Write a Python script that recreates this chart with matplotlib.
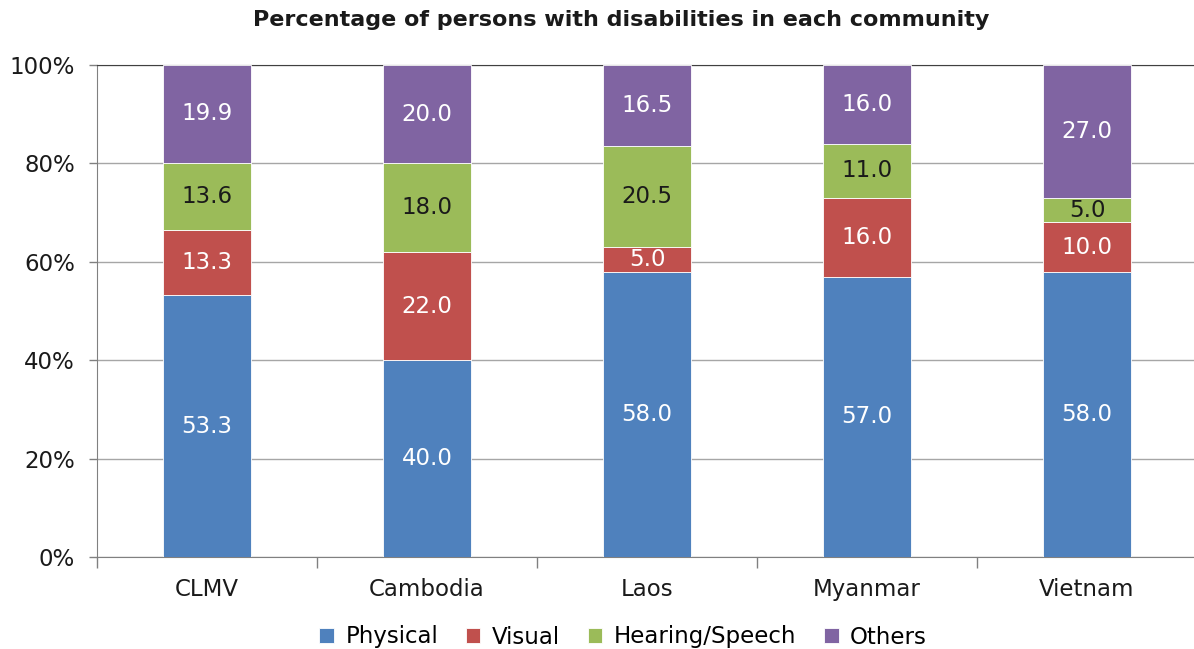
import matplotlib
matplotlib.use("Agg")
import matplotlib.pyplot as plt
import numpy as np
from matplotlib.ticker import FuncFormatter, FixedLocator

categories = ["CLMV", "Cambodia", "Laos", "Myanmar", "Vietnam"]
series_names = ["Physical", "Visual", "Hearing/Speech", "Others"]
physical = [53.3, 40.0, 58.0, 57.0, 58.0]
visual = [13.3, 22.0, 5.0, 16.0, 10.0]
hearing = [13.6, 18.0, 20.5, 11.0, 5.0]
others = [19.9, 20.0, 16.5, 16.0, 27.0]
colors = ["#4F81BD", "#C0504D", "#9BBB59", "#8064A2"]
label_colors = ["white", "white", "#1a1a1a", "white"]
title = "Percentage of persons with disabilities in each community"

plt.rcParams['font.family'] = ['DejaVu Sans']

W, H = 1194, 649
fig = plt.figure(figsize=(W / 100, H / 100), dpi=100)
ax = fig.add_axes([97 / W, 1 - 557 / H, 1100 / W, (557 - 65) / H])

data = np.array([physical, visual, hearing, others])
totals = data.sum(axis=0)
pct = data / totals * 100
x = np.arange(len(categories))
bottom = np.zeros(len(categories))
for i, name in enumerate(series_names):
    bars = ax.bar(x, pct[i], width=0.40, bottom=bottom, color=colors[i],
                  edgecolor="white", linewidth=0.6, label=name, zorder=3)
    for j, b in enumerate(bars):
        ax.text(b.get_x() + b.get_width() / 2, bottom[j] + pct[i][j] / 2,
                f"{data[i][j]:.1f}", ha="center", va="center",
                color=label_colors[i], fontsize=16.5, zorder=4)
    bottom += pct[i]

ax.set_xlim(-0.5, len(categories) - 0.5)
ax.set_ylim(0, 100)
ax.yaxis.set_major_locator(FixedLocator([0, 20, 40, 60, 80, 100]))
ax.yaxis.set_major_formatter(FuncFormatter(lambda v, p: f"{v:.0f}%"))
ax.grid(axis="y", color="#a6a6a6", linewidth=1.0, zorder=0)
ax.set_axisbelow(True)

ax.set_xticks(x)
ax.set_xticklabels(categories, fontsize=16.5, color="#1a1a1a")
ax.tick_params(axis="x", which="major", length=0, pad=15)
ax.set_xticks(np.arange(-0.5, len(categories) + 0.5, 1), minor=True)
ax.tick_params(axis="x", which="minor", length=8, color="#808080", width=1)
ax.tick_params(axis="y", length=6, color="#808080", width=1, labelsize=16.5,
               labelcolor="#1a1a1a", pad=10)

ax.spines["right"].set_visible(False)
ax.spines["top"].set_color("#404040")
ax.spines["left"].set_color("#808080")
ax.spines["bottom"].set_color("#808080")

fig.text(621 / W, 1 - 20 / H, title, ha="center", va="center",
         fontsize=16, fontweight="bold", color="#1a1a1a")

handles, labels = ax.get_legend_handles_labels()
fig.legend(handles, labels, loc="center", bbox_to_anchor=(623 / W, 1 - 637 / H),
           ncol=4, frameon=False, fontsize=16.5, handlelength=0.65, handleheight=0.65,
           handletextpad=0.5, columnspacing=1.2, borderaxespad=0)

fig.savefig("out.png", dpi=100)
